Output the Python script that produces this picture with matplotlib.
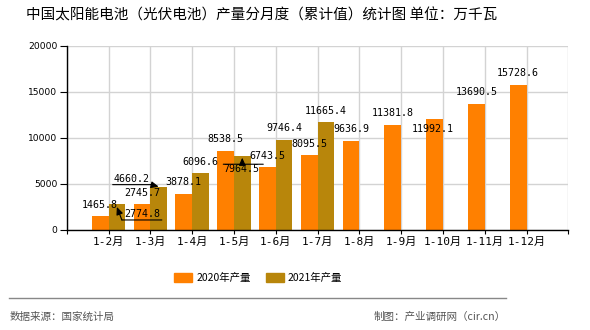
import numpy as np
import matplotlib.pyplot as plt
from matplotlib.lines import Line2D
from matplotlib.patches import Patch

months = ['1-2月', '1-3月', '1-4月', '1-5月', '1-6月', '1-7月',
          '1-8月', '1-9月', '1-10月', '1-11月', '1-12月']
output_2020 = [1465.8, 2745.7, 3878.1, 8538.5, 6743.5, 8095.5,
               9636.9, 11381.8, 11992.1, 13690.5, 15728.6]
output_2021 = [2774.8, 4660.2, 6096.6, 7964.5, 9746.4, 11665.4]
y_ticks = [0, 5000, 10000, 15000, 20000]

c2020 = '#FF8000'
c2021 = '#B8860B'
bar_w = 0.4
cjk = 'Noto Sans CJK SC'
mono = ['DejaVu Sans Mono', cjk]

fig = plt.figure(figsize=(5.9, 3.3), dpi=100)
ax = fig.add_axes([66.7 / 590, 1 - 229.5 / 330, 501.6 / 590, 184 / 330])

x20 = np.arange(len(output_2020))
x21 = np.arange(len(output_2021))
ax.bar(x20 - bar_w / 2, output_2020, bar_w, color=c2020, zorder=2)
ax.bar(x21 + bar_w / 2, output_2021, bar_w, color=c2021, zorder=2)

ax.set_xlim(-1, 11)
ax.set_ylim(0, 20000)
ax.set_xticks(range(-1, 12))
ax.set_xticklabels([''] + months + [''], family=mono, fontsize=8)
ax.set_yticks(y_ticks)
ax.set_yticklabels([str(v) for v in y_ticks], family='DejaVu Sans', fontsize=6.6)
ax.tick_params(axis='y', length=5, width=0.8, pad=1.8, direction='out')
ax.tick_params(axis='x', length=3, width=0.8, pad=2, direction='out')
ax.grid(True, color='#D3D3D3', lw=1)
ax.set_axisbelow(True)
for s in ['top', 'right']:
    ax.spines[s].set_visible(False)
for s in ['left', 'bottom']:
    ax.spines[s].set_color('black')
    ax.spines[s].set_linewidth(1)

# label baseline offsets in pixels from the bar top;
# crowded labels are moved and get a leader line with an arrow
moved = {
    ('2021', 0): dict(text=(25, -13), line=((45, -16), (5, -16)), arrow=((5, -16), (0, -3))),
    ('2021', 1): dict(text=(-27, 5), line=((-46, 2), (-6, 2)), arrow=((-8, 2), (0, 0))),
    ('2021', 3): dict(text=(-1, -16), line=((-19, -8), (21, -8)), arrow=((0, -8), (0, -1.5))),
    ('2020', 8): dict(text=(-1.5, -13), line=None, arrow=None),
}


def put_label(name, i, xc, v):
    m = moved.get((name, i), dict(text=(0, 8.5), line=None, arrow=None))
    ax.annotate(f'{v:.1f}', xy=(xc, v), xytext=m['text'], textcoords='offset pixels',
                ha='center', va='baseline', family=mono, fontsize=7.2, zorder=5)
    px, py = ax.transData.transform((xc, v))
    if m['line'] is not None:
        a, b = m['line']
        ax.annotate('', xy=(px + b[0], py + b[1]), xycoords='figure pixels',
                    xytext=(px + a[0], py + a[1]), textcoords='figure pixels',
                    arrowprops=dict(arrowstyle='-', lw=0.8, color='black',
                                    shrinkA=0, shrinkB=0), zorder=5)
    if m['arrow'] is not None:
        a, b = m['arrow']
        ax.annotate('', xy=(px + b[0], py + b[1]), xycoords='figure pixels',
                    xytext=(px + a[0], py + a[1]), textcoords='figure pixels',
                    arrowprops=dict(arrowstyle='-|>,head_length=0.45,head_width=0.2',
                                    lw=0.8, color='black', shrinkA=0, shrinkB=0),
                    zorder=6)


for i, v in enumerate(output_2020):
    put_label('2020', i, i - bar_w / 2, v)
for i, v in enumerate(output_2021):
    put_label('2021', i, i + bar_w / 2, v)

fig.text(261.5 / 590, 1 - 15 / 330, '中国太阳能电池（光伏电池）产量分月度（累计值）统计图 单位：万千瓦',
         ha='center', va='center', family=cjk, fontsize=10.5)

handles = [Patch(color=c2020, label='2020年产量'), Patch(color=c2021, label='2021年产量')]
fig.legend(handles=handles, loc='center', bbox_to_anchor=(258 / 590, 1 - 278 / 330), ncol=2,
           frameon=False, prop=dict(family=cjk, size=7.5), handlelength=1.73,
           handleheight=0.87, handletextpad=0.4, columnspacing=1.45)

fig.add_artist(Line2D([9 / 590, 506 / 590], [1 - 298 / 330] * 2, color='#888888', lw=1))
fig.text(10 / 590, 1 - 317 / 330, '数据来源：国家统计局', ha='left', va='center',
         family=cjk, fontsize=7.6, color='#555555')
fig.text(506 / 590, 1 - 317 / 330, '制图：产业调研网（cir.cn）', ha='right', va='center',
         family=cjk, fontsize=7.6, color='#555555')

fig.savefig('out.png', dpi=100)
